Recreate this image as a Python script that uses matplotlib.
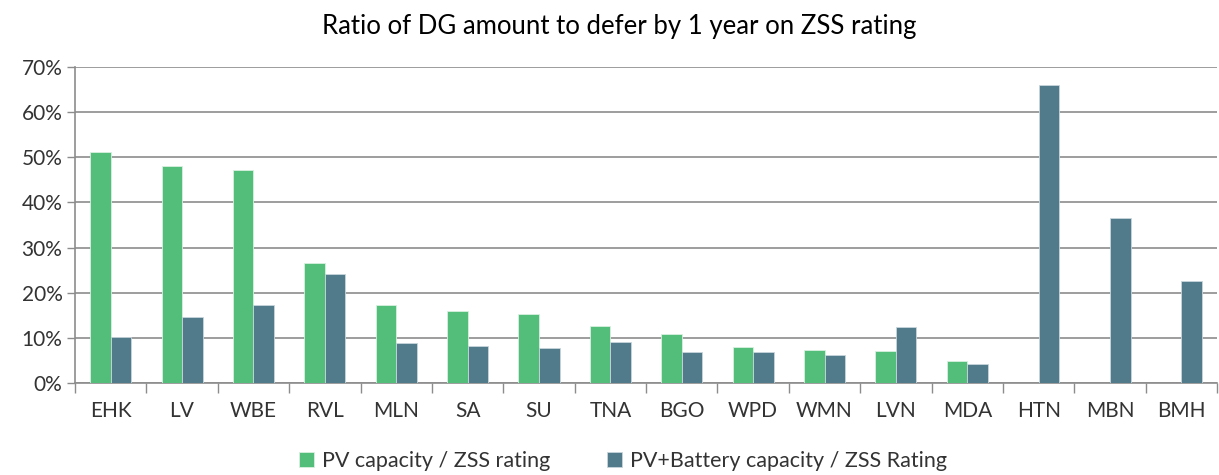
import numpy as np
import matplotlib.pyplot as plt
from matplotlib.ticker import PercentFormatter, FixedLocator

categories = ["EHK", "LV", "WBE", "RVL", "MLN", "SA", "SU", "TNA", "BGO",
              "WPD", "WMN", "LVN", "MDA", "HTN", "MBN", "BMH"]
pv_ratio = [51.3, 48.1, 47.3, 26.6, 17.2, 16.0, 15.2, 12.7, 10.8,
            7.9, 7.4, 7.0, 4.9, 0, 0, 0]
pv_batt_ratio = [10.2, 14.6, 17.2, 24.2, 8.8, 8.3, 7.7, 9.1, 6.8,
                 6.8, 6.2, 12.5, 4.1, 66.0, 36.5, 22.5]

GREEN = "#52BE79"
BLUE = "#517A8A"
plt.rcParams["font.family"] = ["Lato", "DejaVu Sans"]

fig = plt.figure(figsize=(12.19, 4.75), dpi=100)
ax = fig.add_axes([0.0615, 0.1937, 0.937, 0.665])

x = np.arange(len(categories))
w = 0.2875
ax.bar(x - w / 2, pv_ratio, w, color=GREEN, edgecolor="#d8f0e0", linewidth=0.6,
       label="PV capacity / ZSS rating", zorder=3)
ax.bar(x + w / 2, pv_batt_ratio, w, color=BLUE, edgecolor="#c8d6dc", linewidth=0.6,
       label="PV+Battery capacity / ZSS Rating", zorder=3)

ax.set_xlim(-0.5, len(categories) - 0.5)
ax.set_ylim(0, 70)
ax.set_yticks(np.arange(0, 71, 10))
ax.yaxis.set_major_formatter(PercentFormatter(decimals=0))
ax.set_xticks(x)
ax.set_xticklabels(categories)
ax.xaxis.set_minor_locator(FixedLocator(np.arange(-0.5, len(categories), 1)))
ax.tick_params(axis="x", which="major", length=0, pad=13, labelsize=15, colors="#333333")
ax.tick_params(axis="x", which="minor", length=7, width=1, color="#8c8c8c")
ax.tick_params(axis="y", length=6, width=1, color="#8c8c8c", labelsize=15,
               labelcolor="#333333", pad=3)

ax.grid(axis="y", color="#8c8c8c", linewidth=1.2, zorder=0)
for s in ["top", "right"]:
    ax.spines[s].set_visible(False)
for s in ["left", "bottom"]:
    ax.spines[s].set_color("#8c8c8c")
    ax.spines[s].set_linewidth(1.2)

fig.suptitle("Ratio of DG amount to defer by 1 year on ZSS rating",
             x=0.508, y=0.97, fontsize=18.5, color="black")

fig.legend(loc="center", bbox_to_anchor=(0.511, 0.03), ncol=2, frameon=False,
           fontsize=15.5, handlelength=0.7, handleheight=0.7, handletextpad=0.4,
           columnspacing=2.6, labelcolor="#333333")

fig.savefig("out.png", dpi=100)
